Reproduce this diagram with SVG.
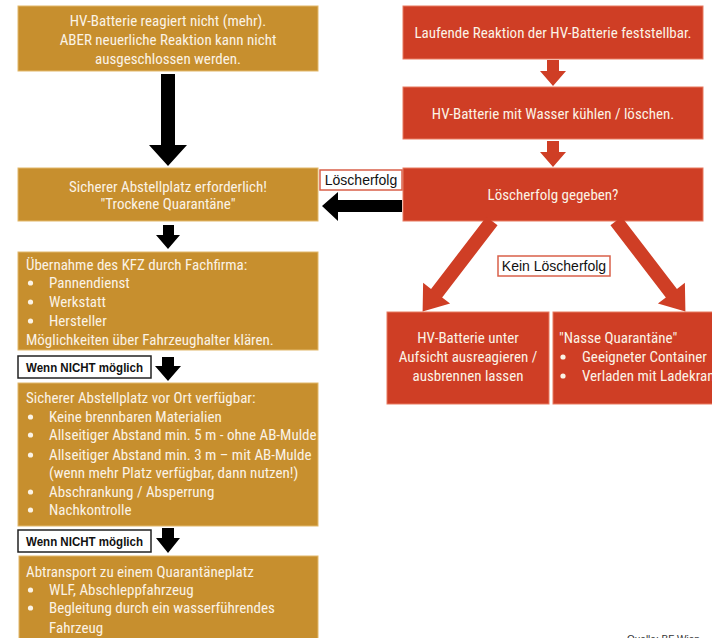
<svg xmlns="http://www.w3.org/2000/svg" width="712" height="638" viewBox="0 0 712 638">
<style>
.gold{fill:#C78F2E;stroke:#E2B86A;stroke-width:1}
.red{fill:#CF3E25;stroke:#E87A60;stroke-width:1}
.t{font-family:"Liberation Sans Narrow","Roboto Condensed","DejaVu Sans Condensed","Liberation Sans",sans-serif;font-size:15px;fill:#FBF3E6}
.c{text-anchor:middle}
.dot{fill:#FBF3E6}
.lbl{font-family:"Liberation Sans Narrow","Liberation Sans",sans-serif;font-size:14px;fill:#111}
.b{font-weight:bold;font-size:13px}
.lboxk{fill:#fff;stroke:#222;stroke-width:1.5}
.lboxr{fill:#fff;stroke:#D9604A;stroke-width:1.5}
.ak{fill:#000}
.ar{fill:#CF3E25}
</style>
<rect width="712" height="638" fill="#fff"/>

<g id="n1">
<rect class="gold" x="18" y="6" width="300" height="65"/>
<text class="t c" x="168" y="26">HV-Batterie reagiert nicht (mehr).</text>
<text class="t c" x="168" y="45">ABER neuerliche Reaktion kann nicht</text>
<text class="t c" x="168" y="64">ausgeschlossen werden.</text>
</g>

<g id="n2">
<rect class="gold" x="18" y="168" width="300" height="53"/>
<text class="t c" x="168" y="192">Sicherer Abstellplatz erforderlich!</text>
<text class="t c" x="168" y="209">"Trockene Quarantäne"</text>
</g>

<g id="n3">
<rect class="gold" x="18" y="252" width="300" height="98"/>
<text class="t" x="26" y="270">Übernahme des KFZ durch Fachfirma:</text>
<circle class="dot" cx="30.5" cy="283" r="2.6"/><text class="t" x="49" y="288">Pannendienst</text>
<circle class="dot" cx="30.5" cy="302" r="2.6"/><text class="t" x="49" y="307">Werkstatt</text>
<circle class="dot" cx="30.5" cy="321" r="2.6"/><text class="t" x="49" y="326">Hersteller</text>
<text class="t" x="26" y="345">Möglichkeiten über Fahrzeughalter klären.</text>
</g>

<g id="n4">
<rect class="gold" x="18" y="383" width="300" height="143"/>
<text class="t" x="26" y="403">Sicherer Abstellplatz vor Ort verfügbar:</text>
<circle class="dot" cx="30.5" cy="417" r="2.6"/><text class="t" x="49" y="422">Keine brennbaren Materialien</text>
<circle class="dot" cx="30.5" cy="435" r="2.6"/><text class="t" x="49" y="440">Allseitiger Abstand min. 5 m - ohne AB-Mulde</text>
<circle class="dot" cx="30.5" cy="455" r="2.6"/><text class="t" x="49" y="460">Allseitiger Abstand min. 3 m – mit AB-Mulde</text>
<text class="t" x="49" y="478">(wenn mehr Platz verfügbar, dann nutzen!)</text>
<circle class="dot" cx="30.5" cy="492" r="2.6"/><text class="t" x="49" y="497">Abschrankung / Absperrung</text>
<circle class="dot" cx="30.5" cy="510" r="2.6"/><text class="t" x="49" y="515">Nachkontrolle</text>
</g>

<g id="n5">
<rect class="gold" x="19" y="556" width="299" height="90"/>
<text class="t" x="26" y="577">Abtransport zu einem Quarantäneplatz</text>
<circle class="dot" cx="30.5" cy="590" r="2.6"/><text class="t" x="49" y="595">WLF, Abschleppfahrzeug</text>
<circle class="dot" cx="30.5" cy="608" r="2.6"/><text class="t" x="49" y="613">Begleitung durch ein wasserführendes</text>
<text class="t" x="49" y="633">Fahrzeug</text>
</g>

<g id="r1">
<rect class="red" x="403" y="6" width="300" height="53"/>
<text class="t c" x="553" y="38">Laufende Reaktion der HV-Batterie feststellbar.</text>
</g>

<g id="r2">
<rect class="red" x="403" y="87" width="300" height="52"/>
<text class="t c" x="553" y="119">HV-Batterie mit Wasser kühlen / löschen.</text>
</g>

<g id="r3">
<rect class="red" x="403" y="168" width="300" height="53"/>
<text class="t c" x="553" y="200">Löscherfolg gegeben?</text>
</g>

<g id="r4">
<rect class="red" x="387" y="312" width="162" height="92"/>
<text class="t c" x="468" y="343">HV-Batterie unter</text>
<text class="t c" x="468" y="362">Aufsicht ausreagieren /</text>
<text class="t c" x="468" y="381">ausbrennen lassen</text>
</g>

<g id="r5">
<rect class="red" x="553" y="312" width="165" height="92"/>
<text class="t" x="559" y="343">"Nasse Quarantäne"</text>
<circle class="dot" cx="563" cy="357" r="2.6"/><text class="t" x="582" y="362">Geeigneter Container</text>
<circle class="dot" cx="563" cy="376" r="2.6"/><text class="t" x="582" y="381">Verladen mit Ladekran</text>
</g>

<g id="connectors">
<polygon class="ak" points="161,74 175,74 175,145 187,145 168,166 149,145 161,145"/>
<polygon class="ak" points="163,225 174,225 174,235 180,235 168,249 156,235 163,235"/>
<polygon class="ak" points="162,357 174,357 174,366 181,366 168,381 155,366 162,366"/>
<polygon class="ak" points="162,528 174,528 174,538 180,538 168,553 156,538 162,538"/>
<polygon class="ak" points="402,200 338,200 338,192 322,206 338,221 338,212 402,212"/>
<polygon class="ar" points="547,60 559,60 559,71 566,71 553,86 540,71 547,71"/>
<polygon class="ar" points="547,141 559,141 559,152 566,152 553,167 540,152 547,152"/>
<polygon class="ar" transform="translate(616,221) rotate(52.5)" points="0,-7 91,-7 91,-17 114,0 91,17 91,7 0,7"/>
<polygon class="ar" transform="translate(492,221) rotate(127.5)" points="0,-7 91,-7 91,-17 114,0 91,17 91,7 0,7"/>
</g>

<g id="lbl-loescherfolg">
<rect class="lboxr" x="320" y="170" width="82" height="20"/>
<text class="lbl c" x="361" y="185">Löscherfolg</text>
</g>
<g id="lbl-kein">
<rect class="lboxr" x="498" y="256" width="112" height="20"/>
<text class="lbl c" x="554" y="271">Kein Löscherfolg</text>
</g>
<g id="lbl-wenn1">
<rect class="lboxk" x="18" y="356" width="133" height="22"/>
<text class="lbl b" x="26" y="372" textLength="117" lengthAdjust="spacingAndGlyphs">Wenn NICHT möglich</text>
</g>
<g id="lbl-wenn2">
<rect class="lboxk" x="18" y="530" width="133" height="22"/>
<text class="lbl b" x="26" y="546" textLength="117" lengthAdjust="spacingAndGlyphs">Wenn NICHT möglich</text>
</g>

<text x="627" y="643" style="font-family:'Liberation Sans',sans-serif;font-size:10px;fill:#333">Quelle: BF Wien</text>
</svg>
